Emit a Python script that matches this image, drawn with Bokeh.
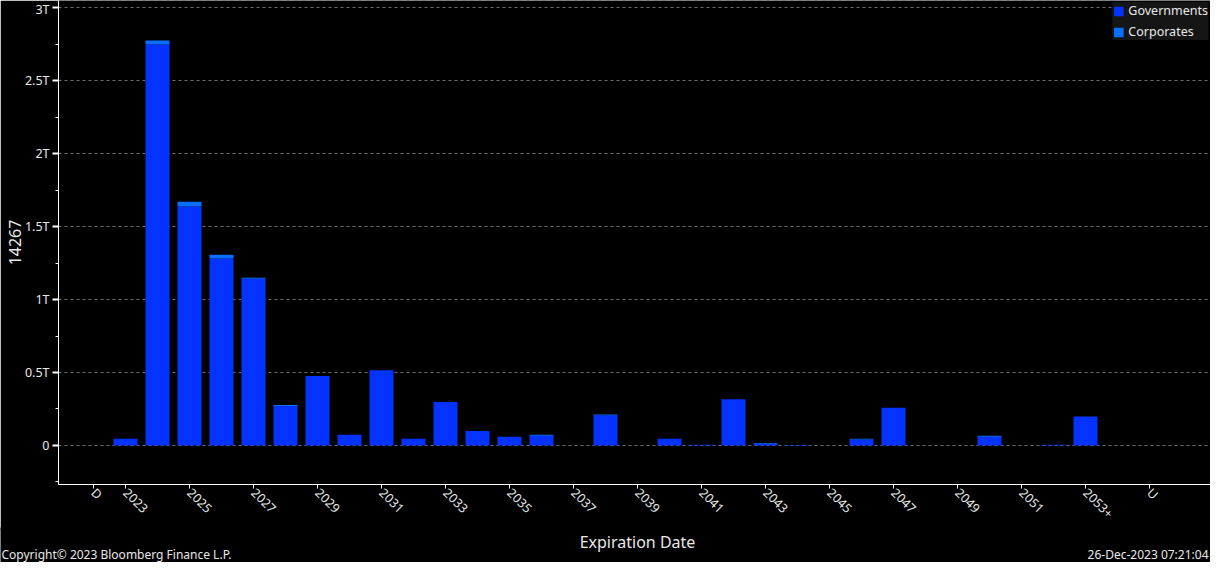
import math
from bokeh.plotting import figure
from bokeh.layouts import column, row
from bokeh.models import (ColumnDataSource, FixedTicker, CustomJSTickFormatter,
                          Range1d, Label)
from bokeh.embed import file_html
from bokeh.resources import INLINE

# ---- data (values in trillions) ----
years = list(range(2023, 2054))   # 2053 stands for "2053+"
governments = [
    0.046, 2.748, 1.638, 1.281, 1.142, 0.271, 0.476, 0.073, 0.515, 0.046,   # 2023-2032
    0.297, 0.099, 0.059, 0.067, 0.000, 0.206, 0.000, 0.046, 0.004, 0.317,   # 2033-2042
    0.009, 0.003, 0.000, 0.040, 0.258, 0.000, 0.000, 0.060, 0.000, 0.004,   # 2043-2052
    0.198,                                                                  # 2053+
]
corporates = [
    0.000, 0.028, 0.033, 0.026, 0.007, 0.006, 0.000, 0.000, 0.000, 0.000,
    0.000, 0.000, 0.000, 0.006, 0.000, 0.006, 0.000, 0.000, 0.000, 0.000,
    0.006, 0.000, 0.000, 0.006, 0.000, 0.000, 0.000, 0.006, 0.000, 0.000,
    0.000,
]
tick_positions = [2022] + list(range(2023, 2054, 2)) + [2055]
tick_labels = ["D"] + [str(y) for y in range(2023, 2053, 2)] + ["2053+", "U"]
y_ticks = [0, 0.5, 1, 1.5, 2, 2.5, 3]
y_minor = [-0.25, 0.25, 0.75, 1.25, 1.75, 2.25, 2.75]

GOV = "#0433FF"
CORP = "#0A6EFF"
FONT = "Noto Sans"
TXT = "#e8e8e8"

src = ColumnDataSource(dict(x=years, gov=governments, corp=corporates))

p = figure(width=1210, height=530,
           x_range=Range1d(2020.906, 2056.906), y_range=Range1d(-0.268, 3.05),
           output_backend="svg", toolbar_location=None,
           background_fill_color="black", border_fill_color="black",
           min_border_left=58, min_border_right=0, min_border_top=0,
           min_border_bottom=46)
p.outline_line_color = None

p.vbar_stack(["gov", "corp"], x="x", width=0.75, source=src,
             fill_color=[GOV, CORP], line_color=None,
             legend_label=["Governments", "Corporates"])

# x axis
xa = p.xaxis[0]
xa.ticker = FixedTicker(ticks=tick_positions)
xa.major_label_overrides = dict(zip(tick_positions, tick_labels))
xa.major_label_orientation = -math.pi / 4
xa.axis_line_color = "white"
xa.major_tick_line_color = "white"
xa.major_tick_out = 4
xa.major_tick_in = 0
xa.minor_tick_line_color = None
xa.major_label_text_color = TXT
xa.major_label_text_font = FONT
xa.major_label_text_font_size = "12.5px"
xa.major_label_standoff = 2

# y axis
ya = p.yaxis[0]
ya.ticker = FixedTicker(ticks=y_ticks, minor_ticks=y_minor)
ya.formatter = CustomJSTickFormatter(code="return tick == 0 ? '0' : tick + 'T';")
ya.axis_label = "14267"
ya.axis_label_text_color = TXT
ya.axis_label_text_font = FONT
ya.axis_label_text_font_size = "16px"
ya.axis_label_text_font_style = "normal"
ya.axis_label_standoff = 1
ya.axis_line_color = "white"
ya.major_tick_line_color = "white"
ya.major_tick_line_width = 2
ya.major_tick_out = 6
ya.major_tick_in = 0
ya.minor_tick_line_color = "white"
ya.minor_tick_out = 3
ya.minor_tick_in = 0
ya.major_label_text_color = TXT
ya.major_label_text_font = FONT
ya.major_label_text_font_size = "12.5px"
ya.major_label_standoff = 3

p.xgrid.visible = False
p.ygrid.grid_line_color = "#6e6e6e"
p.ygrid.grid_line_dash = "3 3"
p.ygrid.grid_line_width = 1

# legend
lg = p.legend[0]
lg.location = "top_right"
lg.background_fill_color = "#151515"
lg.background_fill_alpha = 1
lg.border_line_color = None
lg.label_text_color = TXT
lg.label_text_font = FONT
lg.label_text_font_size = "12.5px"
lg.glyph_width = 12
lg.glyph_height = 12
lg.label_height = 12
lg.spacing = 4
lg.padding = 7
lg.margin = 2
lg.label_standoff = 4

# footer strip with axis title, copyright and timestamp
f = figure(width=1210, height=35, x_range=Range1d(0, 1210), y_range=Range1d(0, 35),
           x_axis_type=None, y_axis_type=None, output_backend="svg",
           toolbar_location=None, background_fill_color="black",
           border_fill_color="black", min_border=0)
f.outline_line_color = None
f.grid.visible = False
f.add_layout(Label(x=637, y=21, text="Expiration Date", text_align="center",
                   text_baseline="middle", text_color=TXT, text_font=FONT,
                   text_font_size="16px"))
f.add_layout(Label(x=1, y=8, text="Copyright\u00a9 2023 Bloomberg Finance L.P.",
                   text_align="left", text_baseline="middle", text_color=TXT,
                   text_font=FONT, text_font_size="12px"))
f.add_layout(Label(x=1208, y=8, text="26-Dec-2023 07:21:04", text_align="right",
                   text_baseline="middle", text_color=TXT, text_font=FONT,
                   text_font_size="12px"))

footer = row(f, margin=(-3, 0, 0, 0))
layout = column(p, footer, spacing=0)
open("out.html", "w").write(file_html(layout, INLINE))
